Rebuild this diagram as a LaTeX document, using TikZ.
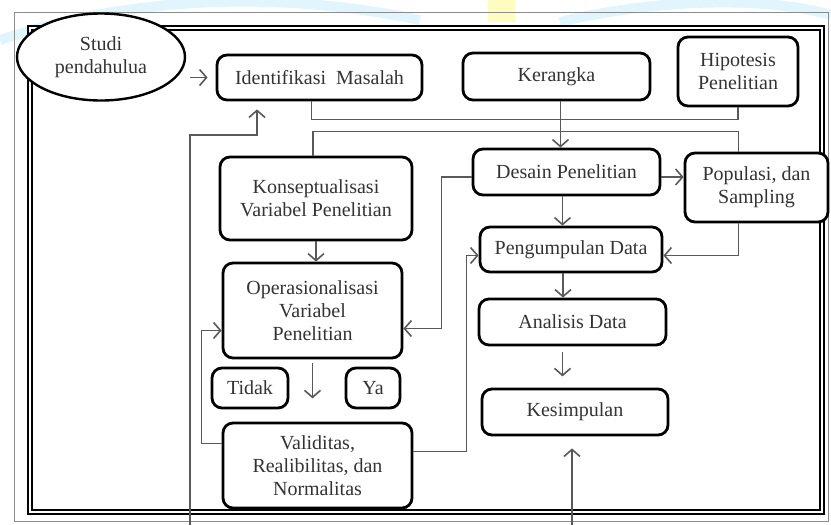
\documentclass[tikz,border=0pt]{standalone}
\usepackage{fontspec}
\setmainfont{Liberation Serif}
\usetikzlibrary{shapes.geometric,arrows.meta}

\begin{document}
\begin{tikzpicture}[x=0.5pt, y=-0.5pt,
  kotak/.style={draw, rounded corners=5pt, line width=1.4pt, align=center, inner sep=2pt,
    font=\fontsize{10}{11.5}\selectfont, text=black!80},
  garis/.style={draw=black!65, line width=0.8pt},
  panah/.style={garis, -{Straight Barb[length=3.5pt, width=8pt]}}]
\useasboundingbox (0,0) rectangle (831,525);
% latar
\fill[yellow!25] (488,0) rectangle (515,22);
\draw[cyan!12, line width=5pt] (0,40) .. controls (150,-10) and (300,-5) .. (420,20);
\draw[cyan!12, line width=5pt] (560,22) .. controls (650,0) and (760,-5) .. (831,15);
% bingkai
\draw[black!45, line width=0.5pt] (14,12) rectangle (828,521);
\draw[double, double distance=1.2pt, line width=0.7pt] (30,28) rectangle (822,512);

% kolom kiri
\node[draw, ellipse, fill=white, line width=1.2pt, minimum width=84pt, minimum height=43.5pt, inner sep=0pt,
  align=center, font=\fontsize{10}{11.5}\selectfont, text=black!80] (studi) at (101,57) {Studi\\pendahulua};
\node[kotak, minimum width=102.5pt, minimum height=22.5pt] (ident) at (319.5,77.5) {Identifikasi~~Masalah};
\node[kotak, minimum width=96pt, minimum height=41.5pt] (konsep) at (316,198.5) {Konseptualisasi\\Variabel Penelitian};
\node[kotak, minimum width=89.5pt, minimum height=47.5pt] (operas) at (312.5,310.5) {Operasionalisasi\\Variabel\\Penelitian};
\node[kotak, minimum width=38pt, minimum height=20pt] (tidak) at (250,388) {Tidak};
\node[kotak, minimum width=27pt, minimum height=20pt] (ya) at (373,388) {Ya};
\node[kotak, minimum width=94.5pt, minimum height=42.5pt] (validitas) at (317.5,465.5) {Validitas,\\Realibilitas, dan\\Normalitas};

% kolom kanan
\node[kotak, minimum width=93.5pt, minimum height=23.5pt] (kerangka) at (556.5,76.5) {Kerangka};
\node[kotak, minimum width=60pt, minimum height=34.5pt] (hipotesis) at (738,71.5) {Hipotesis\\Penelitian};
\node[kotak, minimum width=93.5pt, minimum height=23pt] (desain) at (566.5,172) {Desain Penelitian};
\node[kotak, fill=white, minimum width=71.5pt, minimum height=34.5pt] (populasi) at (756.5,187.5) {Populasi, dan\\Sampling};
\node[kotak, minimum width=91pt, minimum height=22.5pt] (kumpul) at (571,249.5) {Pengumpulan Data};
\node[kotak, minimum width=93.5pt, minimum height=23pt] (analisis) at (572.5,322) {Analisis Data};
\node[kotak, minimum width=93pt, minimum height=23pt] (kesimpulan) at (575,412) {Kesimpulan};

\coordinate (bawahkiri) at (190,525);
\coordinate (kiriatas) at (257,135);
\coordinate (bawahkanan) at (572,525);

% penghubung
\draw[panah] ([xshift=2pt]studi.east |- ident.west) -- ([xshift=-4pt]ident.west);
\draw[garis] ([xshift=-4pt]ident.south) -- ++(0,18) -| (hipotesis.south);
\draw[panah] ([xshift=2pt]kerangka.south) -- ([xshift=2pt]kerangka.south |- desain.north);
\draw[garis] ([xshift=-1.5pt]konsep.north) -- ++(0,-24) -| ([xshift=-9pt]populasi.north);
\draw[panah] ([yshift=-2.5pt]desain.east) -- ([yshift=-2.5pt]desain.east -| populasi.west);
\draw[panah] ([xshift=-2pt]desain.south) -- ([xshift=-2pt]desain.south |- kumpul.north);
\draw[panah] ([xshift=-9pt]populasi.south) |- ([yshift=-3pt]kumpul.east);
\draw[panah] ([yshift=-2.5pt]desain.west) -- ++(-30,0) |- ([yshift=-9pt]operas.east);
\draw[panah] ([yshift=7pt]validitas.east) -- ++(53,0) |- ([yshift=-3pt]kumpul.west);
\draw[panah] ([yshift=11pt]validitas.west) -- ++(-20,0) |- ([yshift=-10pt]operas.west);
\draw[panah] (konsep.south) -- (konsep.south |- operas.north);
\draw[panah] ([yshift=-2pt]operas.south) -- ++(0,35);
\draw[panah] ([xshift=-4pt]kumpul.south) -- ([xshift=-4pt]kumpul.south |- analisis.north);
\draw[panah] ([xshift=-5pt,yshift=-3pt]analisis.south) -- ++(0,24);
\draw[panah] (bawahkiri) |- (kiriatas) -- ([yshift=-4pt]kiriatas |- ident.south);
\draw[panah] (bawahkanan) -- ([yshift=-6pt]bawahkanan |- kesimpulan.south);
\end{tikzpicture}
\end{document}
